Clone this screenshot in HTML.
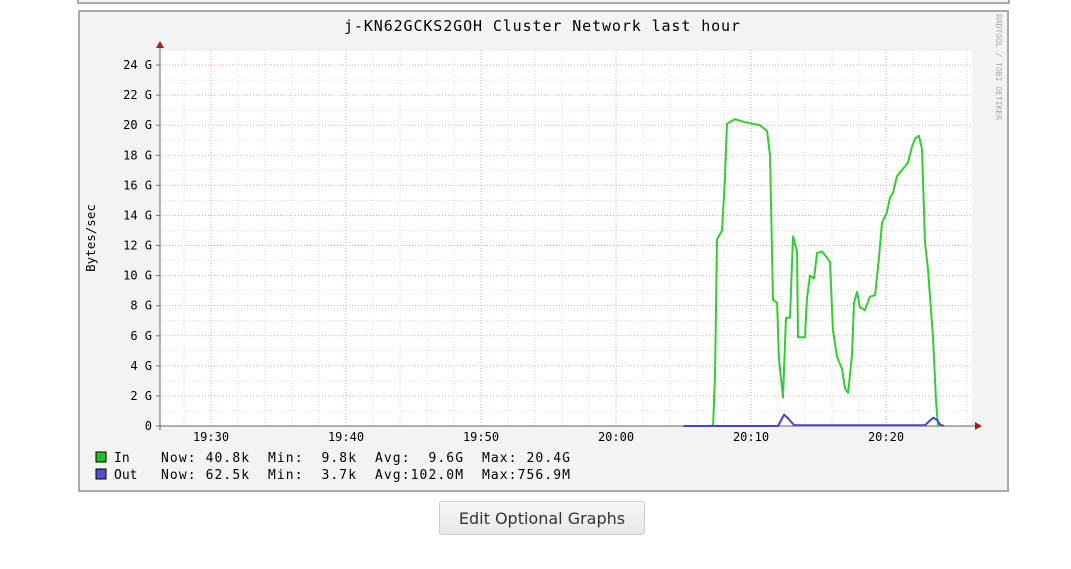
<!DOCTYPE html>
<html><head><meta charset="utf-8"><style>
body{margin:0;background:#fff;width:1071px;height:569px;overflow:hidden;font-family:"DejaVu Sans","Liberation Sans",sans-serif}
#btn{position:absolute;left:439px;top:501px;width:206px;height:34px;border:1px solid #ccc;border-radius:3px;background:linear-gradient(#f6f6f6,#e8e8e8);font-size:16px;color:#333;text-align:center;line-height:33px;box-sizing:border-box}
svg text{white-space:pre}
</style></head><body>
<svg id="chart" width="1071" height="569" style="position:absolute;left:0;top:0" font-family="'DejaVu Sans Mono','Liberation Mono',monospace">
<rect x="78" y="-2" width="931" height="5" fill="#f3f3f3" stroke="#aaa" stroke-width="2"/>
<rect x="79" y="11" width="929" height="480" fill="#f3f3f3" stroke="#aaa" stroke-width="2"/>
<rect x="160" y="50" width="812" height="376" fill="#fff"/>
<g id="grid"></g>
<g id="axes"></g>
<text x="542" y="31" font-size="15" text-anchor="middle" textLength="396" fill="#000">j-KN62GCKS2GOH Cluster Network last hour</text>
<text transform="translate(95,238) rotate(-90)" font-size="12.5" text-anchor="middle" fill="#000">Bytes/sec</text>
<text transform="translate(996,14) rotate(90)" font-size="8" fill="#aaa">RRDTOOL / TOBI OETIKER</text>
<g id="series"></g>
<g font-size="13" fill="#000">
<rect x="96" y="452" width="10" height="10" fill="#22c022" stroke="#000" stroke-width="1"/>
<text x="114" y="462">In</text>
<text x="161" y="462" textLength="409">Now: 40.8k  Min:  9.8k  Avg:  9.6G  Max: 20.4G</text>
<rect x="96" y="469" width="10" height="10" fill="#5050c8" stroke="#000" stroke-width="1"/>
<text x="114" y="479">Out</text>
<text x="161" y="479" textLength="409">Now: 62.5k  Min:  3.7k  Avg:102.0M  Max:756.9M</text>
</g>
</svg>
<div id="btn">Edit Optional Graphs</div>
<script>
// time in minutes after 20:00, values in G
const yTicks=[0,2,4,6,8,10,12,14,16,18,20,22,24];
const xTickTimes=[-30,-20,-10,0,10,20];
const xTickLabels=["19:30","19:40","19:50","20:00","20:10","20:20"];
const inTimes=[5.0,7.19,7.33,7.48,7.85,8.07,8.22,8.81,9.56,10.67,11.19,11.41,11.63,11.93,12.07,12.37,12.59,12.89,13.11,13.41,13.48,14.0,14.15,14.37,14.67,14.89,15.26,15.63,15.85,16.07,16.37,16.74,16.96,17.19,17.48,17.63,17.85,18.07,18.44,18.81,19.19,19.48,19.7,20.07,20.3,20.52,20.81,21.26,21.63,21.93,22.15,22.44,22.67,22.89,23.11,23.48,23.7,23.85];
const inValues=[0,0,3.3,12.4,13,16.4,20.1,20.4,20.2,20.0,19.6,18.0,8.4,8.2,4.5,1.9,7.2,7.2,12.6,11.6,5.9,5.9,8.5,10.0,9.8,11.5,11.6,11.2,10.9,6.4,4.6,3.8,2.5,2.2,4.7,8.2,8.9,7.9,7.7,8.6,8.7,11.2,13.5,14.2,15.2,15.5,16.6,17.1,17.5,18.6,19.1,19.3,18.4,12.2,10.4,5.9,1.7,0];
const outTimes=[5.0,12.0,12.3,12.45,12.7,12.95,13.2,22.9,23.3,23.5,23.8,24.0,24.3];
const outValues=[0,0,0.5,0.75,0.55,0.3,0.05,0.05,0.4,0.55,0.4,0.1,0];
const X0=751,PXMIN=13.5,Y0=426,PXG=15.04;
const xs=t=>X0+(t-10)*PXMIN, ys=v=>Y0-v*PXG;
const NS="http://www.w3.org/2000/svg";
function mk(tag,attrs,parent){const e=document.createElementNS(NS,tag);for(const k in attrs)e.setAttribute(k,attrs[k]);parent.appendChild(e);return e;}
const grid=document.getElementById('grid'),axes=document.getElementById('axes'),series=document.getElementById('series');
for(let v=1;v<=25;v+=1){const y=ys(v);const major=v%2===0;
 const l=mk('line',{x1:160,x2:972,y1:y,y2:y,stroke:major?'#f0a0a0':'#d8d8d8','stroke-width':1,'stroke-dasharray':'1,2'},grid);
 
 }
for(let t=-34;t<=26;t+=2){const x=xs(t);if(x<=160||x>=972)continue;const major=t%10===0;
 const l=mk('line',{x1:x,x2:x,y1:50,y2:426,stroke:major?'#f0a0a0':'#d8d8d8','stroke-width':1,'stroke-dasharray':'1,2'},grid);
 
 }
yTicks.forEach(v=>{const t=mk('text',{x:152,y:ys(v)+4,'font-size':12,'text-anchor':'end',fill:'#000'},axes);t.textContent=(v===0?'0':v+' G');
 
 
 const k=mk('line',{x1:156,x2:160,y1:ys(v),y2:ys(v),stroke:'#777'},axes);
 
 });
xTickTimes.forEach((tm,i)=>{const t=mk('text',{x:xs(tm),y:441,'font-size':12,'text-anchor':'middle',fill:'#000'},axes);t.textContent=xTickLabels[i];
 
 });
function path(times,vals,color,name){let d='';times.forEach((t,i)=>{d+=(i?'L':'M')+xs(t).toFixed(1)+','+ys(vals[i]).toFixed(1);});
 const p=mk('path',{d:d,fill:'none',stroke:color,'stroke-width':2,'stroke-linejoin':'round'},series);
 
 }
const xa=mk('line',{x1:156,x2:976,y1:426,y2:426,stroke:'#666','stroke-width':1},axes);


const ya=mk('line',{x1:160,x2:160,y1:46,y2:430,stroke:'#666','stroke-width':1},axes);


const a1=mk('polygon',{points:'156,48 164,48 160,41',fill:'#a02020'},axes);


const a2=mk('polygon',{points:'975,422 975,430 982,426',fill:'#a02020'},axes);


path(inTimes,inValues,'#33cc33','series-in-line');
path(outTimes,outValues,'#4444cc','series-out-line');
</script>
</body></html>
